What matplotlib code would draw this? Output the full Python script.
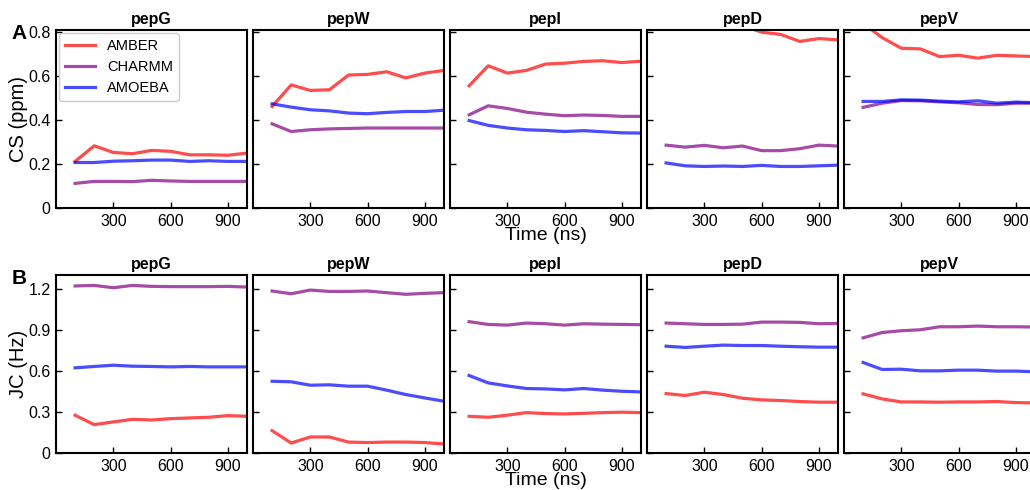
import numpy as np
import matplotlib
matplotlib.use('Agg')
import matplotlib.pyplot as plt
from matplotlib.ticker import FuncFormatter

plt.rcParams['font.family'] = ['Liberation Sans', 'DejaVu Sans']

time_ns = [100, 200, 300, 400, 500, 600, 700, 800, 900, 1000]
peptides = ['pepG', 'pepW', 'pepI', 'pepD', 'pepV']
force_fields = ['AMBER', 'CHARMM', 'AMOEBA']
ff_colors = ['red', 'purple', 'blue']

# chemical shift RMSD (ppm)
cs_amber = {
    'pepG': [0.212, 0.283, 0.253, 0.247, 0.262, 0.258, 0.242, 0.242, 0.240, 0.250],
    'pepW': [0.462, 0.560, 0.535, 0.538, 0.605, 0.608, 0.620, 0.592, 0.614, 0.626],
    'pepI': [0.556, 0.647, 0.614, 0.626, 0.655, 0.659, 0.667, 0.670, 0.662, 0.668],
    'pepD': [0.950, 0.900, 0.880, 0.860, 0.830, 0.800, 0.790, 0.758, 0.771, 0.765],
    'pepV': [0.840, 0.775, 0.727, 0.724, 0.689, 0.695, 0.682, 0.695, 0.692, 0.689],
}
cs_charmm = {
    'pepG': [0.112, 0.121, 0.121, 0.120, 0.126, 0.123, 0.121, 0.121, 0.121, 0.121],
    'pepW': [0.383, 0.348, 0.356, 0.360, 0.362, 0.364, 0.364, 0.364, 0.364, 0.364],
    'pepI': [0.424, 0.465, 0.453, 0.436, 0.427, 0.420, 0.423, 0.421, 0.417, 0.417],
    'pepD': [0.286, 0.277, 0.285, 0.274, 0.282, 0.261, 0.261, 0.270, 0.286, 0.282],
    'pepV': [0.458, 0.477, 0.489, 0.488, 0.483, 0.479, 0.471, 0.470, 0.477, 0.477],
}
cs_amoeba = {
    'pepG': [0.207, 0.207, 0.213, 0.215, 0.218, 0.218, 0.212, 0.215, 0.212, 0.212],
    'pepW': [0.474, 0.459, 0.447, 0.442, 0.432, 0.429, 0.435, 0.439, 0.439, 0.445],
    'pepI': [0.398, 0.376, 0.364, 0.356, 0.353, 0.348, 0.352, 0.347, 0.342, 0.341],
    'pepD': [0.205, 0.192, 0.189, 0.191, 0.189, 0.194, 0.189, 0.189, 0.192, 0.195],
    'pepV': [0.485, 0.485, 0.492, 0.491, 0.486, 0.483, 0.488, 0.477, 0.482, 0.479],
}

# J-coupling RMSD (Hz)
jc_amber = {
    'pepG': [0.276, 0.207, 0.227, 0.246, 0.241, 0.251, 0.256, 0.261, 0.273, 0.268],
    'pepW': [0.163, 0.073, 0.117, 0.117, 0.080, 0.076, 0.080, 0.080, 0.076, 0.066],
    'pepI': [0.268, 0.261, 0.276, 0.295, 0.288, 0.285, 0.290, 0.295, 0.298, 0.295],
    'pepD': [0.434, 0.420, 0.444, 0.427, 0.400, 0.388, 0.383, 0.376, 0.371, 0.371],
    'pepV': [0.432, 0.395, 0.373, 0.373, 0.371, 0.373, 0.373, 0.376, 0.368, 0.366],
}
jc_charmm = {
    'pepG': [1.220, 1.224, 1.207, 1.224, 1.217, 1.215, 1.215, 1.215, 1.217, 1.212],
    'pepW': [1.183, 1.163, 1.190, 1.180, 1.180, 1.183, 1.171, 1.159, 1.166, 1.171],
    'pepI': [0.959, 0.939, 0.934, 0.949, 0.944, 0.934, 0.944, 0.941, 0.939, 0.937],
    'pepD': [0.949, 0.944, 0.939, 0.939, 0.941, 0.956, 0.956, 0.954, 0.944, 0.946],
    'pepV': [0.841, 0.880, 0.893, 0.900, 0.922, 0.922, 0.927, 0.922, 0.922, 0.920],
}
jc_amoeba = {
    'pepG': [0.622, 0.632, 0.641, 0.634, 0.632, 0.629, 0.632, 0.629, 0.629, 0.629],
    'pepW': [0.524, 0.520, 0.495, 0.498, 0.488, 0.488, 0.459, 0.427, 0.402, 0.378],
    'pepI': [0.566, 0.512, 0.490, 0.471, 0.468, 0.461, 0.471, 0.459, 0.451, 0.446],
    'pepD': [0.780, 0.771, 0.780, 0.788, 0.785, 0.785, 0.780, 0.776, 0.773, 0.773],
    'pepV': [0.661, 0.610, 0.612, 0.600, 0.600, 0.605, 0.605, 0.598, 0.598, 0.593],
}

rows = [
    ('A', 'CS (ppm)', [cs_amber, cs_charmm, cs_amoeba], (0, 0.81), [0, 0.2, 0.4, 0.6, 0.8]),
    ('B', 'JC (Hz)', [jc_amber, jc_charmm, jc_amoeba], (0, 1.3), [0, 0.3, 0.6, 0.9, 1.2]),
]

W, H = 1030, 490
fig = plt.figure(figsize=(W / 100, H / 100), dpi=100)

# panel geometry in pixels
lefts = [56, 253, 450, 647, 844]
pw = 191
tops = [30, 275]
ph = 178

fmt = FuncFormatter(lambda v, p: '0' if v == 0 else '%g' % v)

for r, (letter, ylab, series, ylim, yticks) in enumerate(rows):
    for c, pep in enumerate(peptides):
        ax = fig.add_axes([lefts[c] / W, 1 - (tops[r] + ph) / H, pw / W, ph / H])
        for ff, col, data in zip(force_fields, ff_colors, series):
            ax.plot(time_ns, data[pep], color=col, alpha=0.7, lw=2.3, label=ff)
        ax.set_xlim(0, 1000)
        ax.set_ylim(*ylim)
        ax.set_xticks([300, 600, 900])
        ax.set_yticks(yticks)
        ax.yaxis.set_major_formatter(fmt)
        ax.tick_params(direction='in', length=4, width=1, labelsize=11.5, pad=4)
        if c > 0:
            ax.tick_params(labelleft=False)
        for s in ax.spines.values():
            s.set_linewidth(1.5)
        ax.set_title(pep, fontsize=11.5, fontweight='bold', pad=4)
        if c == 0:
            ax.set_ylabel(ylab, fontsize=14.5, labelpad=0)
            ax.text(-0.195, 0.98, letter, transform=ax.transAxes, fontsize=15,
                    fontweight='bold', ha='center', va='center')
        if c == 2:
            ax.set_xlabel('Time (ns)', fontsize=14, labelpad=-1)
        if r == 0 and c == 0:
            ax.legend(loc='upper left', fontsize=10.5, handlelength=2.1,
                      borderaxespad=0.2, labelspacing=0.5, framealpha=1,
                      edgecolor='#cccccc')

fig.savefig('out.png', dpi=100)
